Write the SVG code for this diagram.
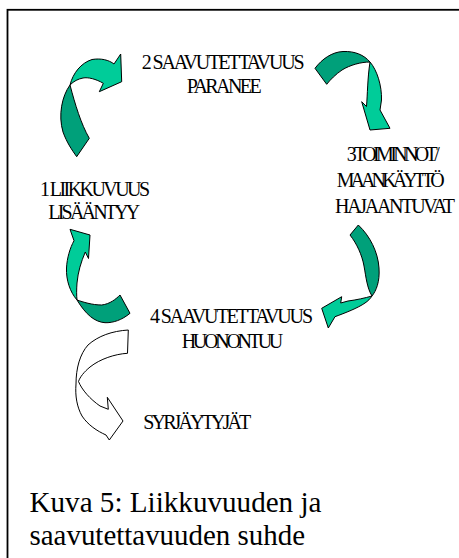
<svg xmlns="http://www.w3.org/2000/svg" width="459" height="558" viewBox="0 0 459 558">
  <style>
    .lbl { font-size: 20px; fill: #000; }
    .cap { font-size: 29px; fill: #000; }
    .front { fill: #00CC99; stroke: #000; stroke-width: 1; stroke-linejoin: round; }
    .back { fill: #00A07A; stroke: #000; stroke-width: 1; stroke-linejoin: round; }
    .plain { fill: #fff; stroke: #000; stroke-width: 1; stroke-linejoin: round; }
  </style>

  <!-- frame -->
  <rect x="7.5" y="9.8" width="520" height="620" fill="none" stroke="#000" stroke-width="1.8"/>

  <g font-family="Liberation Serif, serif">
    <!-- cycle stages -->
    <g id="node-2">
      <text class="lbl" x="141.7" y="68.5" textLength="163">2 SAAVUTETTAVUUS</text>
      <text class="lbl" x="186.7" y="93.3" textLength="75">PARANEE</text>
    </g>
    <g id="node-3">
      <text class="lbl" x="346.7" y="161" textLength="93">3 TOIMINNOT/</text>
      <text class="lbl" x="336.7" y="187" textLength="108">MAANKÄYTTÖ</text>
      <text class="lbl" x="335" y="213" textLength="120">HAJAANTUVAT</text>
    </g>
    <g id="node-1">
      <text class="lbl" x="40" y="195.5" textLength="110">1 LIIKKUVUUS</text>
      <text class="lbl" x="48.3" y="219" textLength="92">LISÄÄNTYY</text>
    </g>
    <g id="node-4">
      <text class="lbl" x="150" y="323" textLength="163">4 SAAVUTETTAVUUS</text>
      <text class="lbl" x="181.7" y="348" textLength="101.6">HUONONTUU</text>
    </g>
    <g id="node-5">
      <text class="lbl" x="143.3" y="429" textLength="108">SYRJÄYTYJÄT</text>
    </g>

    <!-- caption -->
    <g id="caption">
      <text class="cap" x="29.5" y="511.5" textLength="292" lengthAdjust="spacingAndGlyphs">Kuva 5: Liikkuvuuden ja</text>
      <text class="cap" x="29.5" y="545" textLength="275.5" lengthAdjust="spacingAndGlyphs">saavutettavuuden suhde</text>
    </g>
  </g>

  <!-- curved block arrows -->
  <g id="connectors">
    <!-- 1 -> 2 -->
    <g id="arrow-1-2">
      <path class="back" d="M76.7,156.7 L89.3,138.3 C81,124 75,104 70,85 C62,96 58,115 63,132 C67,143 72,150 76.7,156.7 Z"/>
      <path class="front" d="M70,85 C73,73 81,63 92,59.5 C101,58 109,60 114,64 L120.7,54 L121.7,81.7 L99.3,91.7 L103.3,83.3 C96,79 88,77 83,78 C78,79 74,81 70,85 Z"/>
    </g>
    <!-- 2 -> 3 -->
    <g id="arrow-2-3">
      <path class="back" d="M315,68.3 C322,59 332,52 343,51.5 C355,51 364,55 370,62 C361,62 350,65 342,70 C336,74 330,80 326.7,84.3 Z"/>
      <path class="front" d="M370,62 C377,70 382,86 381.5,100 L380,110 L390,128.3 L370,130 L361.7,101.7 L366.5,106.5 C367.5,95 367.5,78 370,62 Z"/>
    </g>
    <!-- 3 -> 4 -->
    <g id="arrow-3-4">
      <path class="back" d="M350,235 L358.3,225 C370,236 378,252 379,268 C380,282 376,291 372,296 C367,288 366,277 364,266 C362,255 357,244 350,235 Z"/>
      <path class="front" d="M372,296 C365,298 356,300 348,301 L340.7,303 L341.7,296.7 L321.7,308.3 L328.3,328 L335,316.7 C345,313 358,308 365,303 C368,301 370,299 372,296 Z"/>
    </g>
    <!-- 4 -> 1 -->
    <g id="arrow-4-1">
      <path class="back" d="M120,295 L130,313.3 C122,320 113,323 105,322.7 C95,322 86,315 77,300 C83,302 92,305 101.7,305 C110,304 116,299 120,295 Z"/>
      <path class="front" d="M77,300 C70,292 66,280 66.5,268 C67,258 70,248 74,240.7 L70,229.3 L90,235 L88.5,258.5 L85.3,252 C81,262 78,272 77,283 C76.5,290 76.5,295 77,300 Z"/>
    </g>
    <!-- 4 -> displaced -->
    <g id="arrow-4-5">
      <path class="plain" d="M128.3,330 L127.5,353.3 C115,354 100,359 90,367 C84,372 80,377 78.5,381.5 C82,390 90,399 100,406 L108.3,409.3 L107.3,397.3 L123,421 L109.3,440 L106,435 C97,431 88,425 82,416 C77,407 75,396 76,384 C76,368 80,354 88,345 C98,336 112,331 128.3,330 Z"/>
    </g>
  </g>
</svg>
